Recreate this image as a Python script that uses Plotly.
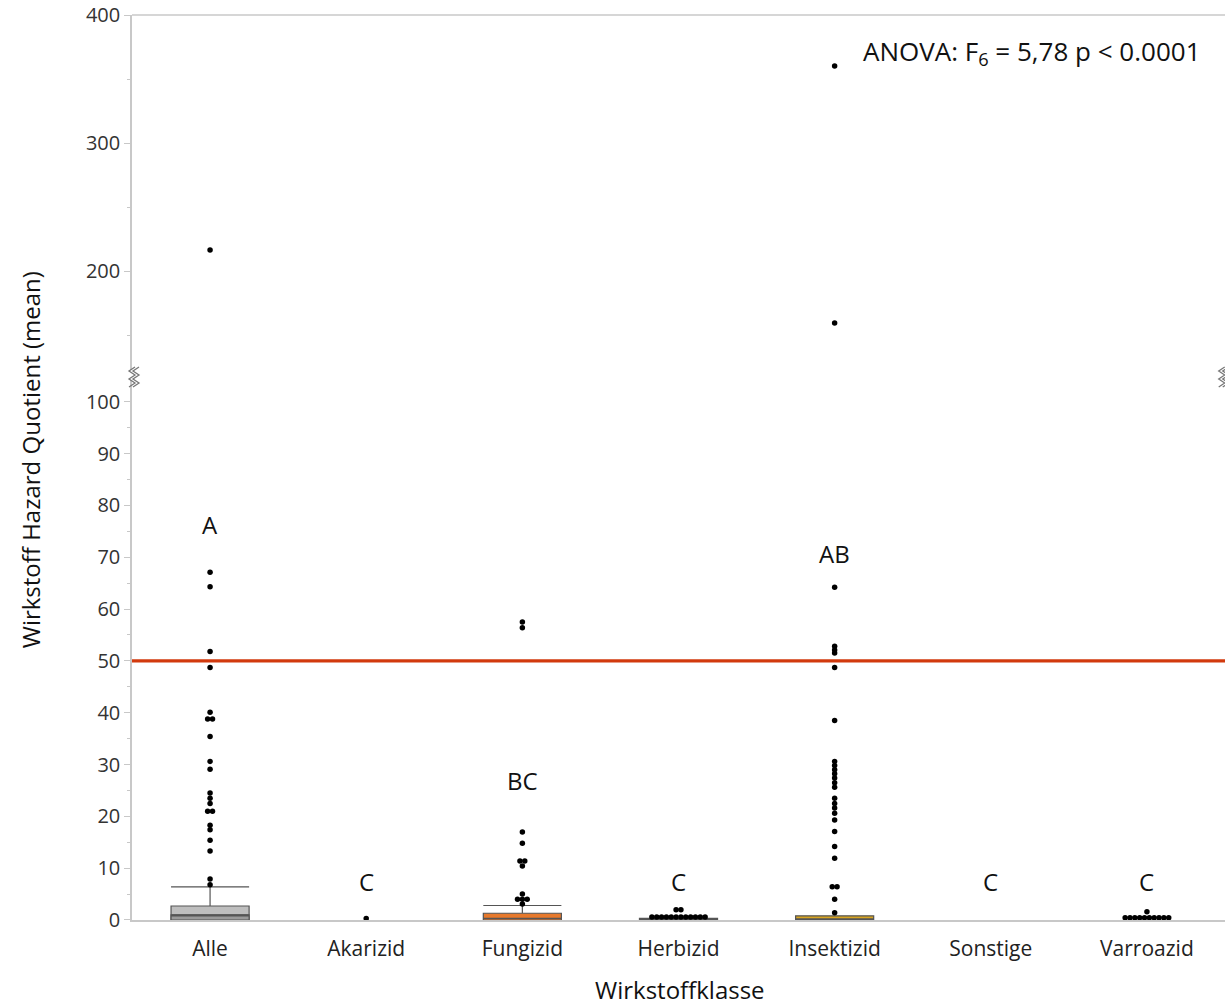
import plotly.graph_objects as go

# ---------------- data ----------------
categories = ["Alle", "Akarizid", "Fungizid", "Herbizid", "Insektizid", "Sonstige", "Varroazid"]

# individual points (lower axis part, 0-100)
pts_alle = [67.1, 64.3, 51.8, 48.7, 40.1, 38.8, 38.8, 35.4, 30.6, 29.1, 24.5, 23.5, 22.5,
            21.0, 21.0, 18.3, 17.4, 15.4, 13.3, 7.9, 6.8]
pts_akarizid = [0.3]
pts_fungizid = [57.5, 56.4, 17.0, 14.8, 11.4, 11.4, 10.4, 5.0, 4.0, 4.0, 4.0, 3.1]
pts_herbizid = [2.0, 2.0] + [0.6] * 12
pts_insektizid = [64.2, 52.8, 52.1, 51.5, 48.7, 38.5, 30.6, 29.8, 29.0, 28.2, 27.4, 26.5, 25.6,
                  23.5, 22.5, 21.6, 20.6, 19.3, 17.1, 14.2, 11.9, 6.4, 6.4, 4.0, 1.4]
pts_sonstige = []
pts_varroazid = [1.6] + [0.45] * 10

# points on the upper axis part (above the break)
upper_cats = ["Alle", "Insektizid", "Insektizid"]
upper_vals = [216.4, 360.2, 159.4]

# box statistics: category, q1, median, q3, lower fence, upper fence
box_cats = ["Alle", "Fungizid", "Herbizid", "Insektizid"]
box_q1 = [0.0, 0.0, 0.0, 0.0]
box_med = [1.0, 0.3, 0.1, 0.2]
box_q3 = [2.7, 1.3, 0.3, 0.8]
box_lo = [0.0, 0.0, 0.0, 0.0]
box_hi = [6.4, 2.8, 0.3, 0.8]
box_fill = ["#BEBEBE", "#E8792B", "#8C8C8C", "#D9A520"]

# group letters and their y-position value
letters = ["A", "C", "BC", "C", "AB", "C", "C"]
letter_y = [76.3, 7.5, 27.0, 7.5, 70.8, 7.5, 7.5]

threshold = 50
anova_text = "ANOVA: F<sub>6</sub> = 5,78 p < 0.0001"

lower_ticks = list(range(0, 101, 10))
upper_ticks = [200, 300, 400]

# ---------------- helpers ----------------
cat_index = {c: i for i, c in enumerate(categories)}


def swarm(cat, vals, spacing=0.031):
    """spread identical values side by side"""
    xs, ys = [], []
    groups = {}
    for v in vals:
        groups.setdefault(v, 0)
        groups[v] += 1
    for v, n in groups.items():
        for k in range(n):
            xs.append(cat_index[cat] + (k - (n - 1) / 2) * spacing)
            ys.append(v)
    return xs, ys


FONT = "'Open Sans', Lato, sans-serif"
fig = go.Figure()

# boxes
for i, c in enumerate(box_cats):
    fig.add_trace(go.Box(
        x=[cat_index[c]], q1=[box_q1[i]], median=[box_med[i]], q3=[box_q3[i]],
        lowerfence=[box_lo[i]], upperfence=[box_hi[i]],
        width=0.5, whiskerwidth=1, fillcolor=box_fill[i],
        line=dict(color="#555555", width=1.2), boxpoints=False,
        showlegend=False, hoverinfo="skip", yaxis="y"))
# darker lower quartile part of the "Alle" box
fig.add_trace(go.Box(
    x=[cat_index["Alle"]], q1=[box_q1[0]], median=[box_med[0]], q3=[box_med[0]],
    lowerfence=[box_q1[0]], upperfence=[box_med[0]],
    width=0.5, whiskerwidth=0, fillcolor="#9A9A9A",
    line=dict(color="#555555", width=1.2), boxpoints=False,
    showlegend=False, hoverinfo="skip", yaxis="y"))

# points
all_groups = [("Alle", pts_alle), ("Akarizid", pts_akarizid), ("Fungizid", pts_fungizid),
              ("Herbizid", pts_herbizid), ("Insektizid", pts_insektizid),
              ("Sonstige", pts_sonstige), ("Varroazid", pts_varroazid)]
for c, vals in all_groups:
    if not vals:
        continue
    xs, ys = swarm(c, vals)
    fig.add_trace(go.Scatter(x=xs, y=ys, mode="markers",
                             marker=dict(color="black", size=5.5),
                             showlegend=False, yaxis="y"))

fig.add_trace(go.Scatter(x=[cat_index[c] for c in upper_cats], y=upper_vals, mode="markers",
                         marker=dict(color="black", size=5.5), showlegend=False, yaxis="y2"))

# threshold line
fig.add_trace(go.Scatter(x=[-0.5, len(categories) - 0.5], y=[threshold, threshold], mode="lines",
                         line=dict(color="#D23A0E", width=3.2), showlegend=False, yaxis="y"))

# letters
for i, c in enumerate(categories):
    fig.add_annotation(x=i, y=letter_y[i], xref="x", yref="y", text=letters[i], showarrow=False,
                       font=dict(family=FONT, size=24, color="#111111"))

fig.add_annotation(x=1.0, y=400, xref="paper", yref="y2", text=anova_text, showarrow=False,
                   xanchor="right", yanchor="top", xshift=-22, yshift=-16,
                   font=dict(family=FONT, size=26, color="#111111"))

# axis titles
fig.add_annotation(x=-0.0933, y=0.508, xref="paper", yref="paper", text="Wirkstoff Hazard Quotient (mean)",
                   textangle=-90, showarrow=False, xanchor="center", yanchor="middle",
                   font=dict(family=FONT, size=24, color="#111111"))
fig.add_annotation(x=0.501, y=-0.077, xref="paper", yref="paper", text="Wirkstoffklasse",
                   showarrow=False, xanchor="center", yanchor="middle",
                   font=dict(family=FONT, size=24, color="#111111"))

# top border
fig.add_shape(type="line", xref="paper", yref="paper", x0=0, x1=1, y0=1, y1=1,
              line=dict(color="#C8C8C8", width=1.5))

# axis break marks
zig = "M -3 -12 L 3 -8 L -3 -4 L 3 0 L -3 4 L 3 8 M 1 -12 L 7 -8 L 1 -4 L 7 0 L 1 4 L 7 8"
for xa in [0.0, 0.997]:
    fig.add_shape(type="path", xref="paper", yref="paper", xsizemode="pixel", ysizemode="pixel",
                  xanchor=xa, yanchor=0.6022, path=zig,
                  line=dict(color="#777777", width=1.3), fillcolor="rgba(0,0,0,0)")

axis_common = dict(showgrid=False, zeroline=False, showline=True, linecolor="#C8C8C8", linewidth=1.5,
                   ticks="outside", tickcolor="#C8C8C8", ticklen=6, tickwidth=1.3,
                   tickfont=dict(family=FONT, size=20, color="#333333"))

fig.update_layout(
    width=1225, height=1006,
    margin=dict(l=132, r=0, t=15, b=86),
    plot_bgcolor="white", paper_bgcolor="white",
    boxmode="overlay",
    xaxis=dict(range=[-0.5, len(categories) - 0.5], tickvals=list(range(len(categories))),
               ticktext=categories, showgrid=False, zeroline=False, showline=True,
               linecolor="#C8C8C8", linewidth=1.5, ticks="outside", ticklen=9,
               tickcolor="rgba(0,0,0,0)",
               tickfont=dict(family=FONT, size=21, color="#222222")),
    yaxis=dict(domain=[0, 0.5967], range=[0, 104.2], tickvals=lower_ticks,
               minor=dict(dtick=5, ticks="outside", ticklen=3, tickcolor="#C8C8C8"),
               **axis_common),
    yaxis2=dict(domain=[0.6077, 1], range=[122.7, 400], tickvals=upper_ticks,
                minor=dict(tickvals=[150, 250, 350], ticks="outside", ticklen=3, tickcolor="#C8C8C8"),
                anchor="x", **axis_common),
)

fig.write_html("out.html", config={"displayModeBar": False},
               post_script="document.body.style.margin='0';document.body.style.overflow='hidden';")
